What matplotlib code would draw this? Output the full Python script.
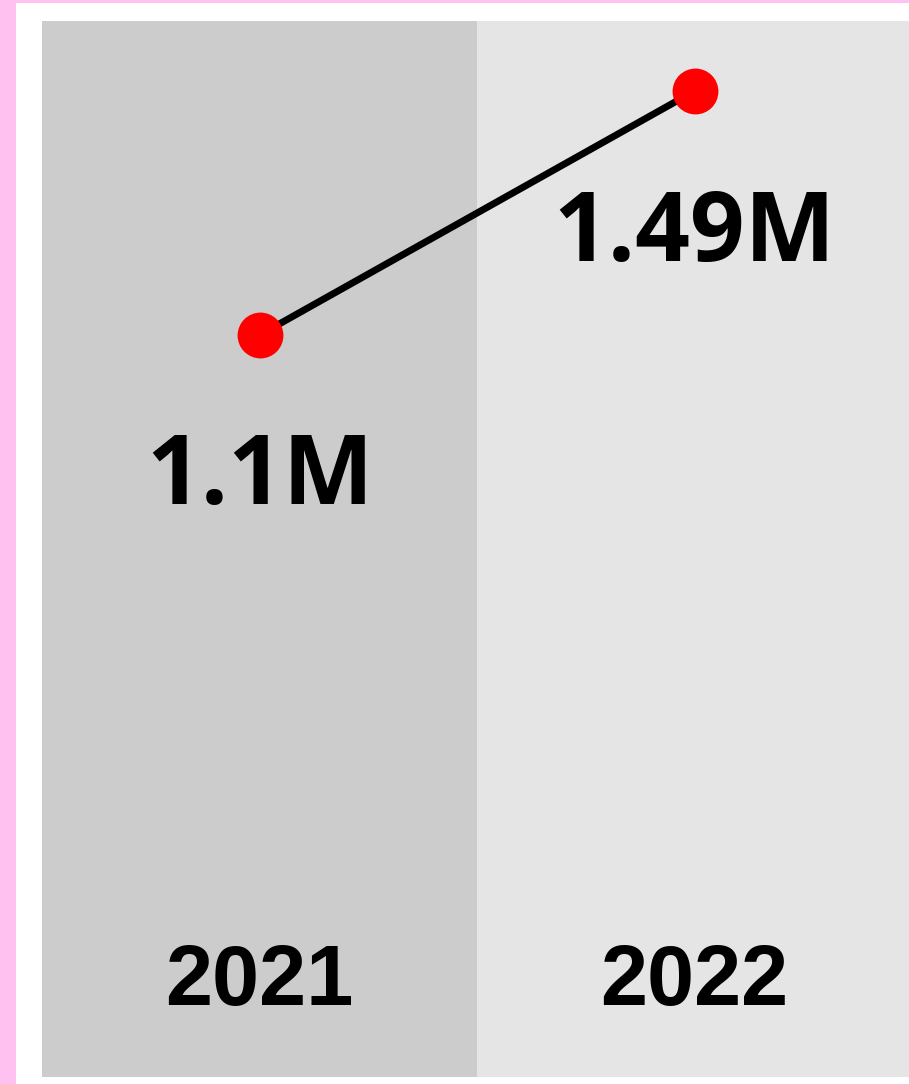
import matplotlib
matplotlib.use("Agg")
import matplotlib.pyplot as plt
from matplotlib.patches import Rectangle
from matplotlib.transforms import blended_transform_factory

# Données
years = ["2021", "2022"]
values = [1.10e6, 1.49e6]
value_labels = ["1.1M", "1.49M"]
band_colors = ["#cccccc", "#e5e5e5"]

W, H, DPI = 909, 1084, 100
fig = plt.figure(figsize=(W / DPI, H / DPI), dpi=DPI, facecolor="#ffc1f0")

# fond blanc (bordure rose à gauche et en haut)
fig.patches.append(Rectangle((16 / W, 0), 1, (H - 3) / H, transform=fig.transFigure,
                             facecolor="white", edgecolor="none", zorder=-10))

# axe : de x=42 à 909 px, de y=21 à 1077 px
ax = fig.add_axes([42 / W, 7 / H, (W - 42) / W, 1056 / H])
ax.set_zorder(1)
ax.set_axis_off()

band_px = 435
ax.set_xlim(-0.5, -0.5 + (W - 42) / band_px)
ax.set_ylim(-0.086e6, 1.602e6)

x = list(range(len(years)))
for i, c in enumerate(band_colors):
    ax.axvspan(i - 0.5, i + 0.5, color=c, zorder=0, lw=0)

ax.plot(x, values, color="black", lw=5, zorder=2, solid_capstyle="butt")
ax.plot(x, values, "o", color="red", markersize=33, markeredgewidth=0, zorder=3)

for xi, v, lab in zip(x, values, value_labels):
    ax.annotate(lab, (xi, v), xytext=(0, -122), textcoords="offset points",
                ha="center", va="baseline", fontsize=69, fontweight="bold",
                family="Open Sans", zorder=4)

trans = blended_transform_factory(ax.transData, ax.transAxes)
for xi, y in zip(x, years):
    ax.text(xi, 0.068, y, transform=trans, ha="center", va="baseline",
            fontsize=61, fontweight="bold", family="Liberation Sans")

fig.savefig("out.png", dpi=DPI, facecolor=fig.get_facecolor())
